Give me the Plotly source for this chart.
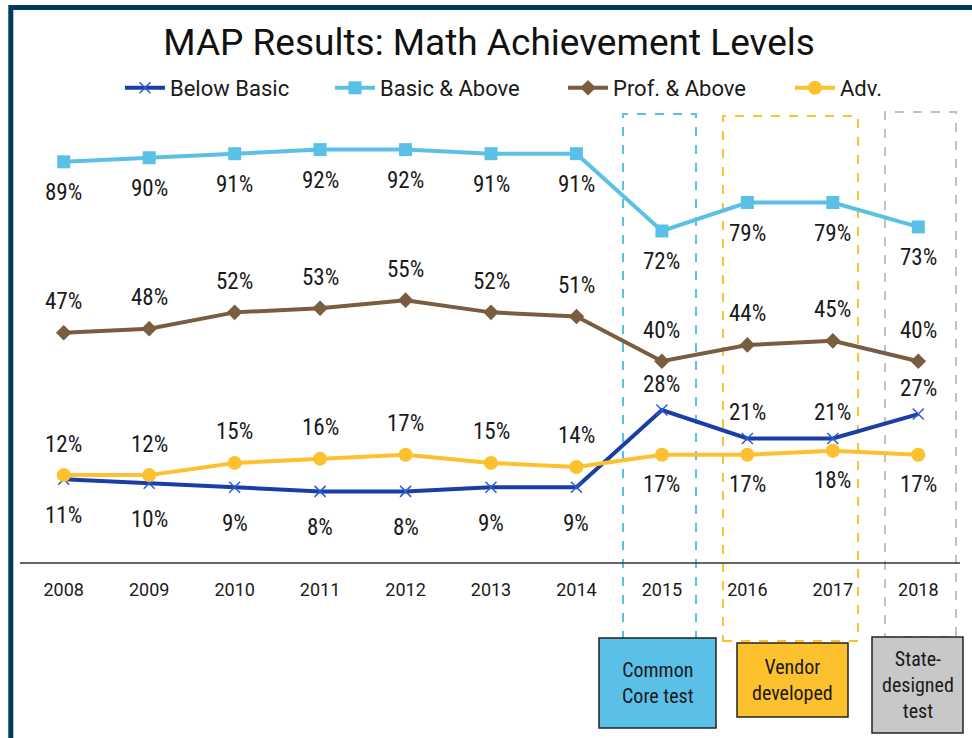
import plotly.graph_objects as go

years = ["2008", "2009", "2010", "2011", "2012", "2013", "2014", "2015", "2016", "2017", "2018"]
below_basic = [11, 10, 9, 8, 8, 9, 9, 28, 21, 21, 27]
basic_above = [89, 90, 91, 92, 92, 91, 91, 72, 79, 79, 73]
prof_above = [47, 48, 52, 53, 55, 52, 51, 40, 44, 45, 40]
adv = [12, 12, 15, 16, 17, 15, 14, 17, 17, 18, 17]

FONT = "Roboto, Liberation Sans, Arial, sans-serif"
NARROW = "Liberation Sans Narrow, Roboto Condensed, Arial Narrow, sans-serif"
W, H = 972, 738
L, R, T, B = 21, 11, 113, 175
PW, PH = W - L - R, H - T - B

def px(x):
    return (x - L) / PW

def py(y):
    return (H - B - y) / PH

C_BB = "#1a3ea3"
C_BA = "#5bc0e6"
C_PA = "#7a5c3e"
C_AD = "#fdc130"

fig = go.Figure()
fig.add_trace(go.Scatter(x=years, y=below_basic, name="Below Basic", mode="lines+markers",
                         legend="legend",
                         line=dict(color=C_BB, width=4),
                         marker=dict(symbol="x-thin", size=11, color="#2b5bd0",
                                     line=dict(color="#2b5bd0", width=1.5))))
fig.add_trace(go.Scatter(x=years, y=basic_above, name="Basic & Above", mode="lines+markers",
                         legend="legend2",
                         line=dict(color=C_BA, width=4),
                         marker=dict(symbol="square", size=13, color=C_BA)))
fig.add_trace(go.Scatter(x=years, y=prof_above, name="Prof. & Above", mode="lines+markers",
                         legend="legend3",
                         line=dict(color=C_PA, width=4),
                         marker=dict(symbol="diamond", size=12, color=C_PA)))
fig.add_trace(go.Scatter(x=years, y=adv, name="Adv.", mode="lines+markers",
                         legend="legend4",
                         line=dict(color=C_AD, width=4),
                         marker=dict(symbol="circle", size=14, color=C_AD)))

annotations = []
def add_labels(vals, shifts):
    for i, v in enumerate(vals):
        annotations.append(dict(x=i, y=v, xref="x", yref="y", text=f"{v}%", showarrow=False,
                                xanchor="center", yanchor="middle",
                                yshift=shifts[i], font=dict(family=NARROW, size=23, color="#1a1a1a")))

add_labels(basic_above, [-31] * 11)
add_labels(prof_above, [31] * 11)
add_labels(below_basic, [-36] * 7 + [26] * 4)
add_labels(adv, [31] * 7 + [-30] * 4)

# period boxes text
for cx, cy, txt in [(657.5, 683, "Common<br>Core test"), (792.5, 680, "Vendor<br>developed"),
                    (917.5, 685, "State-<br>designed<br>test")]:
    annotations.append(dict(x=px(cx), y=py(cy), xref="paper", yref="paper", text=txt, showarrow=False,
                            xanchor="center", yanchor="middle",
                            font=dict(family=NARROW, size=20, color="#1a1a1a"), align="center"))

shapes = []
# dashed outlines
for x0, x1, y0, y1, col in [(623, 696, 114, 639, C_BA), (723, 858, 116, 641, C_AD), (885, 956, 112, 637, "#c0c0c0")]:
    shapes.append(dict(type="rect", xref="paper", yref="paper", x0=px(x0), x1=px(x1), y0=py(y1), y1=py(y0),
                       line=dict(color=col, width=2, dash="dash"), fillcolor="rgba(0,0,0,0)", layer="below"))
# filled boxes
for x0, x1, y0, y1, col in [(599, 716, 638, 728, "#5bc0e8"), (737, 848, 643, 717, "#fcc12d"), (872, 963, 637, 733, "#c8c8c8")]:
    shapes.append(dict(type="rect", xref="paper", yref="paper", x0=px(x0), x1=px(x1), y0=py(y1), y1=py(y0),
                       line=dict(color="#222222", width=1.5), fillcolor=col, layer="above"))
# axis line
shapes.append(dict(type="line", xref="paper", yref="paper", x0=px(20), x1=px(960), y0=0, y1=0,
                   line=dict(color="#333333", width=1.5)))
# outer navy frame
shapes.append(dict(type="rect", xref="paper", yref="paper", x0=px(10.8), x1=px(1000), y0=py(800), y1=py(7.5),
                   line=dict(color="#003a5c", width=5), fillcolor="rgba(0,0,0,0)"))

def legend_at(xpix):
    return dict(orientation="h", x=px(xpix), xanchor="left", y=py(88), yanchor="middle",
                font=dict(family=FONT, size=22, color="#1a1a1a"), bgcolor="rgba(0,0,0,0)",
                itemwidth=40)

fig.update_layout(
    width=W, height=H,
    margin=dict(l=L, r=R, t=T, b=B),
    paper_bgcolor="white", plot_bgcolor="white",
    font=dict(family=FONT, color="#1a1a1a"),
    title=dict(text="MAP Results: Math Achievement Levels", x=px(494), xanchor="center",
               y=1 - 42 / H, yanchor="middle", font=dict(family=FONT, size=37, color="#111111")),
    legend=legend_at(120),
    legend2=legend_at(330),
    legend3=legend_at(563),
    legend4=legend_at(790),
    xaxis=dict(type="category", range=[-0.5, 10.5], showgrid=False, showline=False, zeroline=False,
               ticks="", tickfont=dict(family=FONT, size=18, color="#1a1a1a"), ticklabelstandoff=14),
    yaxis=dict(range=[-9.6, 101.0], visible=False, showgrid=False, zeroline=False),
    annotations=annotations,
    shapes=shapes,
    showlegend=True,
)

fig.write_html("out.html", config={"displayModeBar": False},
               post_script="document.body.style.margin='0';")
